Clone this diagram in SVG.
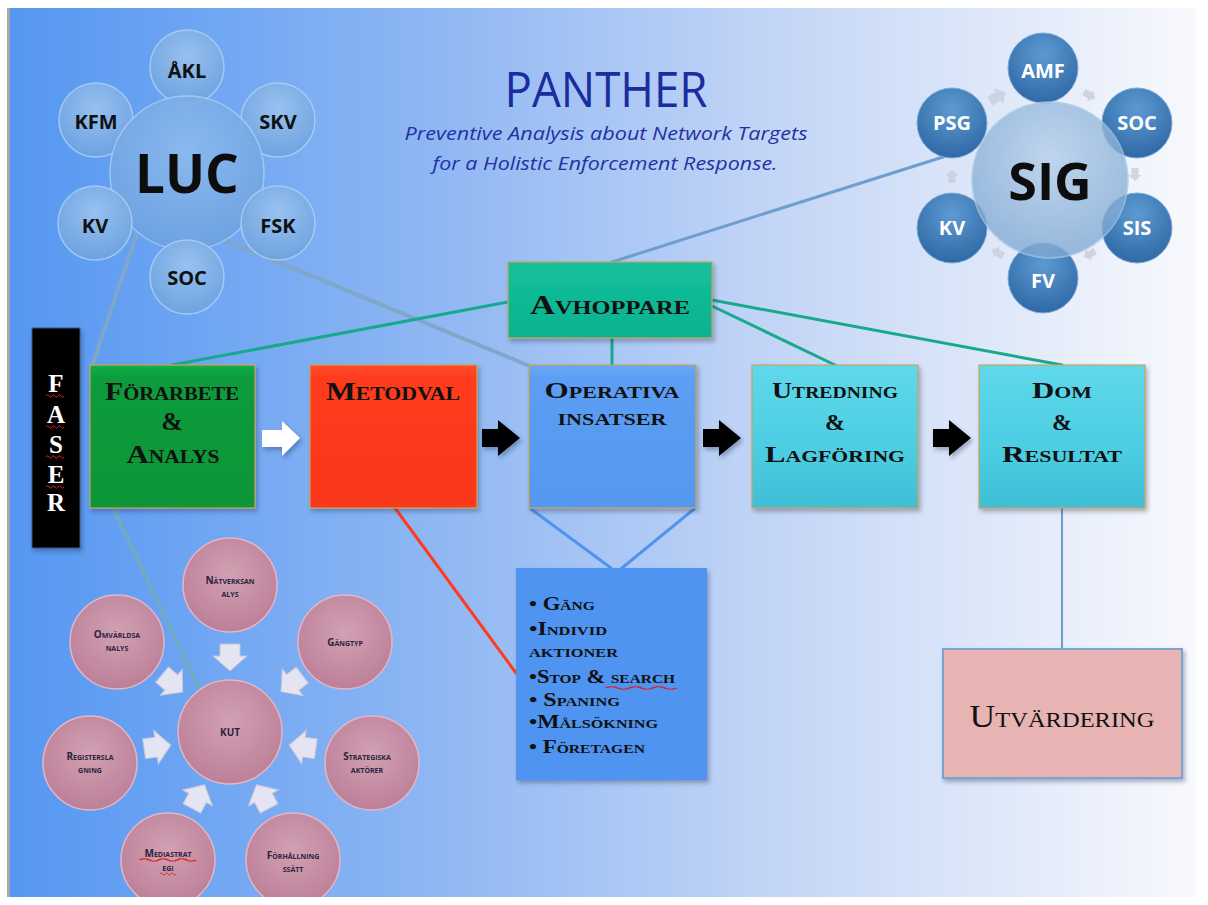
<svg xmlns="http://www.w3.org/2000/svg" width="1208" height="905" viewBox="0 0 1208 905">
<style>
.bx{font-family:"Liberation Serif",serif;font-weight:bold;font-variant:small-caps;fill:#111;text-anchor:middle}
.ls{font-family:"Liberation Serif",serif;font-weight:bold;font-variant:small-caps;font-size:19px;fill:#111}
.ct{font-family:"Open Sans","Noto Sans",sans-serif;font-weight:bold;text-anchor:middle}
.pk{font-family:"Open Sans","Noto Sans",sans-serif;font-weight:bold;font-size:10px;font-variant:small-caps;fill:#2b2440;text-anchor:middle}
.lb{fill:url(#lucB);stroke:#a9cdf3;stroke-width:1.5;opacity:.92}
.sb{fill:url(#sigB);stroke:#7aa9d6;stroke-width:1}
.pc{fill:url(#pink);stroke:#e2b6c6;stroke-width:1.5}
.box{stroke:#c9a65a;stroke-width:1.2;filter:url(#sh)}
.sq{fill:none;stroke:#e02020;stroke-width:1}
</style>
<defs>
<linearGradient id="bg" x1="0" x2="1" y1="0" y2="0">
<stop offset="0" stop-color="#5597f2"/>
<stop offset="0.35" stop-color="#8db6f3"/>
<stop offset="0.65" stop-color="#c4d6f6"/>
<stop offset="1" stop-color="#f8f9fd"/>
</linearGradient>
<radialGradient id="lucB" cx="0.5" cy="0.35" r="0.65">
<stop offset="0" stop-color="#9cc4f0"/>
<stop offset="1" stop-color="#6fa3df"/>
</radialGradient>
<radialGradient id="lucC" cx="0.5" cy="0.35" r="0.65">
<stop offset="0" stop-color="#8fbcef"/>
<stop offset="1" stop-color="#6ea2e0"/>
</radialGradient>
<radialGradient id="sigB" cx="0.5" cy="0.3" r="0.7">
<stop offset="0" stop-color="#5d9ad2"/>
<stop offset="1" stop-color="#2f69a6"/>
</radialGradient>
<radialGradient id="sigC" cx="0.5" cy="0.35" r="0.65">
<stop offset="0" stop-color="#b4cfea"/>
<stop offset="1" stop-color="#7fa8d3"/>
</radialGradient>
<radialGradient id="pink" cx="0.5" cy="0.4" r="0.62">
<stop offset="0" stop-color="#d2a0b3"/>
<stop offset="1" stop-color="#bb7f97"/>
</radialGradient>
<linearGradient id="gGreen" x1="0" x2="0" y1="0" y2="1"><stop offset="0" stop-color="#14ad48"/><stop offset="0.1" stop-color="#0a9b3b"/><stop offset="1" stop-color="#0a9638"/></linearGradient>
<linearGradient id="gRed" x1="0" x2="0" y1="0" y2="1"><stop offset="0" stop-color="#ff4a2c"/><stop offset="0.1" stop-color="#ff3b1e"/><stop offset="1" stop-color="#fa371b"/></linearGradient>
<linearGradient id="gBlue" x1="0" x2="0" y1="0" y2="1"><stop offset="0" stop-color="#6aa8f5"/><stop offset="0.1" stop-color="#5b9ef3"/><stop offset="1" stop-color="#5598f0"/></linearGradient>
<linearGradient id="gCyan" x1="0" x2="0" y1="0" y2="1"><stop offset="0" stop-color="#5fd8ea"/><stop offset="0.6" stop-color="#4ccde2"/><stop offset="1" stop-color="#3fbed6"/></linearGradient>
<linearGradient id="gTeal" x1="0" x2="0" y1="0" y2="1"><stop offset="0" stop-color="#14c09b"/><stop offset="1" stop-color="#0cb28f"/></linearGradient>
<filter id="sh" x="-10%" y="-10%" width="125%" height="125%"><feDropShadow dx="2" dy="3" stdDeviation="2" flood-color="#1a2a50" flood-opacity="0.35"/></filter>
<clipPath id="pic"><rect x="10" y="8" width="1186" height="889"/></clipPath>
<polygon id="karrow" points="-10,-13 10,-13 10,-1 17,-1 0,14 -17,-1 -10,-1" fill="#e4e4f2" stroke="#c4c6d8" stroke-width="1"/>
<polygon id="sarr" points="-6,-3.5 1,-3.5 1,-6.5 7,0 1,6.5 1,3.5 -6,3.5" fill="#c9cfdc" opacity="0.85"/>
<path id="sq" class="sq" d="M0 0 q1.5 -2.5 3 0 t3 0 t3 0 t3 0 t3 0 t3 0"/>
</defs>

<rect x="0" y="0" width="1208" height="905" fill="#ffffff"/>
<rect x="7" y="8" width="3" height="889" fill="#a9a9a9"/>
<g clip-path="url(#pic)">
<rect x="10" y="8" width="1186" height="889" fill="url(#bg)"/>

<!-- title -->
<g id="title">
<text x="606" y="107" font-family="Open Sans, Noto Sans, sans-serif" font-size="49" fill="#1b2c9e" text-anchor="middle" textLength="203" lengthAdjust="spacingAndGlyphs">PANTHER</text>
<text x="606" y="140" font-family="Open Sans, Noto Sans, sans-serif" font-style="italic" font-size="19" fill="#2331a3" text-anchor="middle" textLength="403" lengthAdjust="spacingAndGlyphs">Preventive Analysis about Network Targets</text>
<text x="605" y="170" font-family="Open Sans, Noto Sans, sans-serif" font-style="italic" font-size="19" fill="#2331a3" text-anchor="middle" textLength="345" lengthAdjust="spacingAndGlyphs">for a Holistic Enforcement Response.</text>
</g>

<!-- connectors -->
<g id="connectors" fill="none" stroke-linecap="round">
<line x1="137" y1="233" x2="92" y2="366" stroke="#7fa7c9" stroke-width="4"/>
<line x1="225" y1="240" x2="532" y2="367" stroke="#7fa7c9" stroke-width="4"/>
<line x1="943" y1="157" x2="612" y2="262" stroke="#6d9ecf" stroke-width="3"/>
<line x1="508" y1="302" x2="172" y2="365" stroke="#17a98b" stroke-width="3"/>
<line x1="612" y1="338" x2="612" y2="365" stroke="#17a98b" stroke-width="3"/>
<line x1="712" y1="306" x2="835" y2="365" stroke="#17a98b" stroke-width="3"/>
<line x1="712" y1="300" x2="1062" y2="365" stroke="#17a98b" stroke-width="3"/>
<line x1="113" y1="508" x2="200" y2="690" stroke="#72a9c3" stroke-width="4"/>
<line x1="395" y1="508" x2="516" y2="673" stroke="#ff3b1d" stroke-width="3"/>
<line x1="531" y1="509" x2="611" y2="568" stroke="#4f94f0" stroke-width="3"/>
<line x1="694" y1="509" x2="622" y2="568" stroke="#4f94f0" stroke-width="3"/>
<line x1="1062" y1="508" x2="1062" y2="649" stroke="#6d9dc9" stroke-width="2"/>
</g>

<!-- LUC cluster -->
<g id="luc">
<circle class="lb" cx="187" cy="67" r="37"/>
<circle class="lb" cx="96" cy="120" r="37"/>
<circle class="lb" cx="278" cy="120" r="37"/>
<circle cx="187" cy="173" r="77" fill="url(#lucC)" stroke="#a9cdf3" stroke-width="1.5" opacity="0.88"/>
<circle class="lb" cx="95" cy="223" r="37"/>
<circle class="lb" cx="278" cy="223" r="37"/>
<circle class="lb" cx="187" cy="277" r="37"/>
<text class="ct" x="187" y="193" font-size="53" fill="#0d0d0d">LUC</text>
<text class="ct" x="187" y="78" font-size="20" fill="#111">ÅKL</text>
<text class="ct" x="96" y="129" font-size="20" fill="#111">KFM</text>
<text class="ct" x="278" y="129" font-size="20" fill="#111">SKV</text>
<text class="ct" x="95" y="233" font-size="20" fill="#111">KV</text>
<text class="ct" x="278" y="233" font-size="20" fill="#111">FSK</text>
<text class="ct" x="187" y="285" font-size="20" fill="#111">SOC</text>
</g>

<!-- SIG cluster -->
<g id="sig">
<use href="#sarr" transform="translate(997,97) rotate(-31) scale(1.4)"/>
<use href="#sarr" transform="translate(1089,95) rotate(30)"/>
<use href="#sarr" transform="translate(1135,174) rotate(90)"/>
<use href="#sarr" transform="translate(1090,254) rotate(152)"/>
<use href="#sarr" transform="translate(998,253) rotate(209)"/>
<use href="#sarr" transform="translate(952,177) rotate(-90)"/>
<circle class="sb" cx="1043" cy="68" r="35"/>
<circle class="sb" cx="952" cy="123" r="35"/>
<circle class="sb" cx="1137" cy="123" r="35"/>
<circle class="sb" cx="952" cy="228" r="35"/>
<circle class="sb" cx="1137" cy="228" r="35"/>
<circle class="sb" cx="1043" cy="278" r="35"/>
<circle cx="1050" cy="180" r="78" fill="url(#sigC)" stroke="#a8c6e4" stroke-width="1.5" opacity="0.78"/>
<text class="ct" x="1050" y="200" font-size="52" fill="#0d0d0d">SIG</text>
<text class="ct" x="1043" y="78" font-size="20" fill="#fff">AMF</text>
<text class="ct" x="952" y="130" font-size="20" fill="#fff">PSG</text>
<text class="ct" x="1137" y="130" font-size="20" fill="#fff">SOC</text>
<text class="ct" x="952" y="235" font-size="20" fill="#fff">KV</text>
<text class="ct" x="1137" y="235" font-size="20" fill="#fff">SIS</text>
<text class="ct" x="1043" y="288" font-size="20" fill="#fff">FV</text>
</g>

<!-- FASER -->
<g id="faser">
<rect x="32" y="328" width="48" height="220" fill="#000" stroke="#3a5a80" stroke-width="1" filter="url(#sh)"/>
<g font-family="Liberation Serif, serif" font-weight="bold" font-size="25" fill="#fff" text-anchor="middle">
<text x="56" y="392">F</text>
<text x="56" y="423">A</text>
<text x="56" y="453">S</text>
<text x="56" y="483">E</text>
<text x="56" y="511">R</text>
</g>
<use href="#sq" x="46" y="396"/>
<use href="#sq" x="46" y="427"/>
<use href="#sq" x="46" y="457"/>
<use href="#sq" x="46" y="487"/>
</g>

<!-- Avhoppare -->
<g id="avhoppare">
<rect class="box" x="508" y="262" width="204" height="76" fill="url(#gTeal)"/>
<text class="bx" x="610" y="314" font-size="27" textLength="160" lengthAdjust="spacingAndGlyphs">Avhoppare</text>
</g>

<!-- phase boxes -->
<g id="forarbete">
<rect class="box" x="90" y="365" width="165" height="143" fill="url(#gGreen)"/>
<text class="bx" x="172" y="400" font-size="26" textLength="134" lengthAdjust="spacingAndGlyphs">Förarbete</text>
<text class="bx" x="172" y="430" font-size="26">&amp;</text>
<text class="bx" x="173" y="463" font-size="26" textLength="93" lengthAdjust="spacingAndGlyphs">Analys</text>
</g>
<g id="metodval">
<rect class="box" x="310" y="365" width="167" height="143" fill="url(#gRed)"/>
<text class="bx" x="393" y="400" font-size="26" textLength="134" lengthAdjust="spacingAndGlyphs">Metodval</text>
</g>
<g id="operativa">
<rect class="box" x="529" y="365" width="167" height="143" fill="url(#gBlue)"/>
<text class="bx" x="612" y="398" font-size="24" textLength="135" lengthAdjust="spacingAndGlyphs">Operativa</text>
<text class="bx" x="612" y="425" font-size="24" textLength="109" lengthAdjust="spacingAndGlyphs">insatser</text>
</g>
<g id="utredning">
<rect class="box" x="752" y="365" width="166" height="143" fill="url(#gCyan)"/>
<text class="bx" x="835" y="398" font-size="24" textLength="126" lengthAdjust="spacingAndGlyphs">Utredning</text>
<text class="bx" x="835" y="430" font-size="24">&amp;</text>
<text class="bx" x="835" y="462" font-size="24" textLength="140" lengthAdjust="spacingAndGlyphs">Lagföring</text>
</g>
<g id="dom">
<rect class="box" x="979" y="365" width="166" height="143" fill="url(#gCyan)"/>
<text class="bx" x="1062" y="398" font-size="24" textLength="60" lengthAdjust="spacingAndGlyphs">Dom</text>
<text class="bx" x="1062" y="430" font-size="24">&amp;</text>
<text class="bx" x="1062" y="462" font-size="24" textLength="120" lengthAdjust="spacingAndGlyphs">Resultat</text>
</g>

<!-- phase arrows -->
<g id="arrows" filter="url(#sh)">
<polygon points="262,430 282,430 282,421 300,438 282,456 282,447 262,447" fill="#ffffff"/>
<polygon points="482,429 498,429 498,420 520,438 498,456 498,447 482,447" fill="#000"/>
<polygon points="703,429 719,429 719,420 741,438 719,456 719,447 703,447" fill="#000"/>
<polygon points="933,429 949,429 949,420 971,438 949,456 949,447 933,447" fill="#000"/>
</g>

<!-- list -->
<g id="list">
<rect x="516" y="568" width="191" height="212" fill="#4f94f0" filter="url(#sh)"/>
<text class="ls" x="529" y="610" textLength="66" lengthAdjust="spacingAndGlyphs">• Gäng</text>
<text class="ls" x="529" y="635" textLength="78" lengthAdjust="spacingAndGlyphs">•Individ</text>
<text class="ls" x="529" y="657" textLength="89" lengthAdjust="spacingAndGlyphs">aktioner</text>
<text class="ls" x="529" y="683" textLength="146" lengthAdjust="spacingAndGlyphs">•Stop &amp; search</text>
<use href="#sq" transform="translate(606,688) scale(3.9,1)"/>
<text class="ls" x="529" y="706" textLength="91" lengthAdjust="spacingAndGlyphs">• Spaning</text>
<text class="ls" x="529" y="728" textLength="129" lengthAdjust="spacingAndGlyphs">•Målsökning</text>
<text class="ls" x="529" y="753" textLength="116" lengthAdjust="spacingAndGlyphs">• Företagen</text>
</g>

<!-- Utvardering -->
<g id="utvardering">
<rect x="943" y="649" width="239" height="129" fill="#e7b3b3" stroke="#7aa3d2" stroke-width="2" filter="url(#sh)"/>
<text class="bx" x="1062" y="727" font-size="32" style="font-weight:normal" fill="#222" textLength="185" lengthAdjust="spacingAndGlyphs">Utvärdering</text>
</g>

<!-- KUT cluster -->
<g id="kut">
<circle class="pc" cx="230" cy="585" r="47"/>
<circle class="pc" cx="117" cy="642" r="47"/>
<circle class="pc" cx="345" cy="642" r="47"/>
<circle class="pc" cx="230" cy="732" r="52"/>
<circle class="pc" cx="90" cy="763" r="47"/>
<circle class="pc" cx="372" cy="763" r="47"/>
<circle class="pc" cx="168" cy="860" r="47"/>
<circle class="pc" cx="293" cy="860" r="47"/>
<use href="#karrow" transform="translate(230,657)"/>
<use href="#karrow" transform="translate(172,683) rotate(-50)"/>
<use href="#karrow" transform="translate(292,683) rotate(52)"/>
<use href="#karrow" transform="translate(157,747) rotate(-98)"/>
<use href="#karrow" transform="translate(303,747) rotate(98)"/>
<use href="#karrow" transform="translate(198,797) rotate(-152)"/>
<use href="#karrow" transform="translate(263,797) rotate(152)"/>
<text class="pk" x="230" y="584">Nätverksan</text>
<text class="pk" x="230" y="597">alys</text>
<text class="pk" x="117" y="638">Omvärldsa</text>
<text class="pk" x="117" y="651">nalys</text>
<text class="pk" x="345" y="646">Gängtyp</text>
<text class="pk" x="230" y="736">KUT</text>
<text class="pk" x="90" y="760">Registersla</text>
<text class="pk" x="90" y="773">gning</text>
<text class="pk" x="367" y="760">Strategiska</text>
<text class="pk" x="367" y="773">aktörer</text>
<text class="pk" x="168" y="857">Mediastrat</text>
<text class="pk" x="168" y="871">egi</text>
<use href="#sq" transform="translate(140,860) scale(3.1,1)"/>
<use href="#sq" transform="translate(160,874) scale(0.9,1)"/>
<text class="pk" x="293" y="859">Förhållning</text>
<text class="pk" x="293" y="872">ssätt</text>
</g>
</g>
</svg>
